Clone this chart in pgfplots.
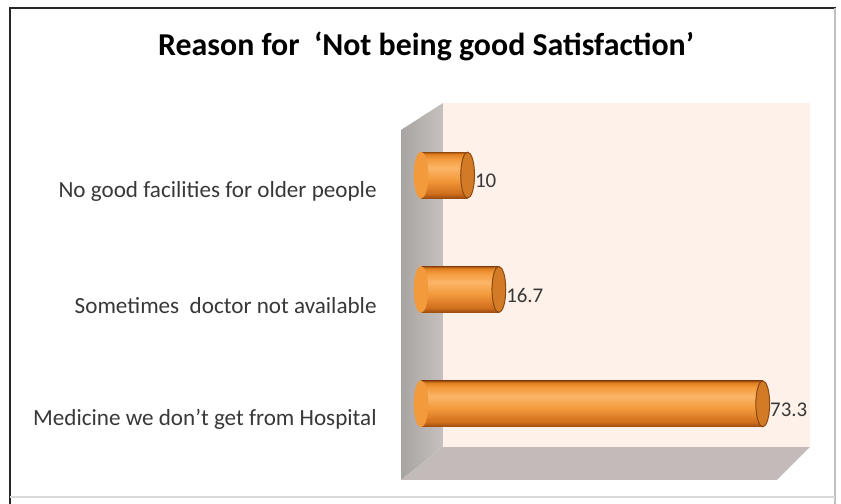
\documentclass[border=0pt]{standalone}
\usepackage{pgfplots}
\pgfplotsset{compat=1.18}
\usepackage{fontspec}
\setmainfont{Carlito}
\definecolor{wall}{HTML}{FDF1E9}
\definecolor{sidedark}{HTML}{A8A4A2}
\definecolor{sidelight}{HTML}{C6C1BF}
\definecolor{floorc}{HTML}{C3BBB9}
\definecolor{barDark}{HTML}{9A4C10}
\definecolor{barBot}{HTML}{D06E1C}
\definecolor{barMid}{HTML}{F39A3C}
\definecolor{barLight}{HTML}{FBB567}
\definecolor{barTop}{HTML}{E0801F}
\definecolor{capc}{HTML}{D27A26}
\definecolor{capedge}{HTML}{8A4A12}
\definecolor{labelgray}{HTML}{383838}
\pgfdeclareverticalshading{cyl}{100bp}{color(0bp)=(barDark); color(25bp)=(barDark); color(30bp)=(barBot); color(45bp)=(barMid); color(58bp)=(barLight); color(68bp)=(barMid); color(73bp)=(barTop); color(75bp)=(barDark); color(100bp)=(barDark)}
\pgfplotsset{cylbar/.style={xbar, bar width=23bp, bar shift=0pt, draw=none, shading=cyl,
  nodes near coords, nodes near coords style={anchor=west, inner sep=0pt, xshift=3.5bp, yshift=-3bp, font=\fontsize{10.5}{12}\selectfont, text=labelgray}}}
\begin{document}
\begin{tikzpicture}[x=0.5bp,y=0.5bp]
\useasboundingbox (0,0) rectangle (841,504);
\fill[white] (0,0) rectangle (841,504);
% 3D walls (decoration)
\shade[left color=sidedark, right color=sidelight] (401,374) -- (443,401) -- (443,57) -- (401,24) -- cycle;
\fill[floorc] (401,24) -- (443,57) -- (810,57) -- (777,24) -- cycle;
\fill[wall] (443,57) rectangle (810,401);
% title
\node[font=\fontsize{16}{19}\selectfont\bfseries, text=black] at (426,458) {Reason for\ \ ‘Not being good Satisfaction’};
% frame
\draw[line width=1.2bp, color=black!85] (10,-10) -- (10,496) -- (836,496);
\draw[line width=0.6bp, color=black!25] (835,496) -- (835,-10);
\draw[line width=0.6bp, color=black!15] (10,7) -- (835,7);
\coordinate (O) at (421,43);
\begin{axis}[
  at={(O)}, anchor=south west,
  scale only axis, width=186.5bp, height=171.5bp,
  xmin=0, xmax=80, ymin=-0.5, ymax=2.5,
  enlargelimits=false, clip=false,
  hide x axis,
  y axis line style={draw=none},
  ytick={0,1,2},
  yticklabels={Medicine we don't get from Hospital, Sometimes\ \ doctor not available, No good facilities for older people},
  ytick style={draw=none},
  major tick length=0pt,
  yticklabel style={font=\fontsize{11.6}{14}\selectfont, text=labelgray, inner sep=0pt, anchor=east, xshift=-22bp, yshift=-8bp},
  /pgf/number format/assume math mode=true,
]
\addplot[only marks, mark=*, mark size=11.5bp, color=barMid, mark options={xscale=0.3, fill=barMid, draw=barMid}]
  coordinates {(0,0) (0,1) (0,2)};
\addplot[cylbar] coordinates {(73.3,0)};
\addplot[cylbar] coordinates {(16.7,1)};
\addplot[cylbar] coordinates {(10,2)};
\addplot[only marks, mark=*, mark size=11.5bp, color=capedge, mark options={xscale=0.3, fill=capc, draw=capedge, line width=0.5bp}]
  coordinates {(73.3,0) (16.7,1) (10,2)};
\end{axis}
\end{tikzpicture}
\end{document}
